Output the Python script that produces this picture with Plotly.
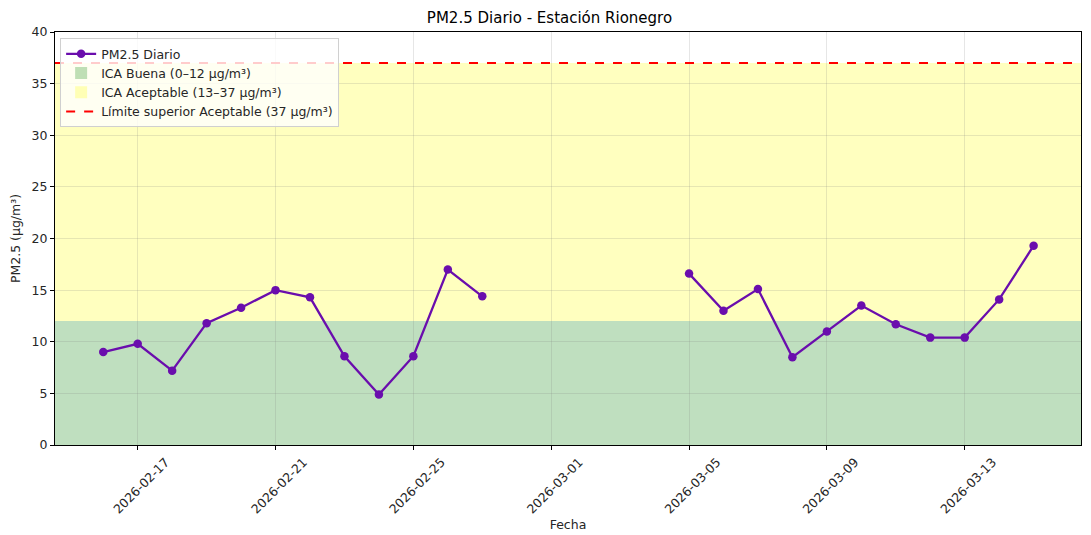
import plotly.graph_objects as go

fechas = ["2026-02-16", "2026-02-17", "2026-02-18", "2026-02-19", "2026-02-20",
          "2026-02-21", "2026-02-22", "2026-02-23", "2026-02-24", "2026-02-25",
          "2026-02-26", "2026-02-27",
          "2026-03-05", "2026-03-06", "2026-03-07", "2026-03-08", "2026-03-09",
          "2026-03-10", "2026-03-11", "2026-03-12", "2026-03-13", "2026-03-14",
          "2026-03-15"]
pm25 = [9.0, 9.8, 7.2, 11.8, 13.3, 15.0, 14.3, 8.6, 4.9, 8.6, 17.0, 14.4,
        16.6, 13.0, 15.1, 8.5, 11.0, 13.5, 11.7, 10.4, 10.4, 14.1, 19.3]

# insert gap (missing days) so the line breaks
x_vals, y_vals = [], []
for i, (f, v) in enumerate(zip(fechas, pm25)):
    if i > 0 and fechas[i - 1] == "2026-02-27":
        x_vals.append("2026-03-01")
        y_vals.append(None)
    x_vals.append(f)
    y_vals.append(v)

buena = (0, 12)
aceptable = (12, 37)
limite = 37
tick_dates = ["2026-02-17", "2026-02-21", "2026-02-25", "2026-03-01",
              "2026-03-05", "2026-03-09", "2026-03-13"]
y_ticks = [0, 5, 10, 15, 20, 25, 30, 35, 40]

FONT = "DejaVu Sans"

fig = go.Figure()
fig.add_trace(go.Scatter(
    x=x_vals, y=y_vals, mode="lines+markers", name="PM2.5 Diario",
    line=dict(color="#6a0dad", width=2.3),
    marker=dict(color="#6a0dad", size=8.5),
    connectgaps=False, legendrank=1,
))

fig.add_shape(type="rect", xref="paper", yref="y", x0=0, x1=1,
              y0=buena[0], y1=buena[1], fillcolor="rgba(0,128,0,0.25)",
              line=dict(width=0), layer="below", showlegend=True,
              name="ICA Buena (0–12 µg/m³)", legendrank=2)
fig.add_shape(type="rect", xref="paper", yref="y", x0=0, x1=1,
              y0=aceptable[0], y1=aceptable[1], fillcolor="rgba(255,255,0,0.25)",
              line=dict(width=0), layer="below", showlegend=True,
              name="ICA Aceptable (13–37 µg/m³)", legendrank=3)
fig.add_shape(type="line", xref="paper", yref="y", x0=0, x1=1,
              y0=limite, y1=limite, line=dict(color="red", width=2, dash="dash"),
              layer="above", showlegend=True,
              name="Límite superior Aceptable (37 µg/m³)", legendrank=4)

# page body has an 8px margin: figure is sized to fill the rest of the window
fig.update_layout(
    width=1083, height=527,
    margin=dict(l=47, r=10, t=24, b=90, autoexpand=False),
    paper_bgcolor="white", plot_bgcolor="white",
    font=dict(family=FONT, size=12.5, color="#262626"),
    title=dict(text="PM2.5 Diario - Estación Rionegro", x=0.5, xanchor="center",
               y=0.981, yanchor="middle", font=dict(size=15, color="black")),
    legend=dict(x=0.005, y=0.985, xanchor="left", yanchor="top",
                bgcolor="rgba(255,255,255,0.8)", bordercolor="#d0d0d0",
                borderwidth=1, font=dict(size=12.5, color="#262626"),
                tracegroupgap=0, itemwidth=30),
    showlegend=True,
)

fig.update_xaxes(
    type="date", automargin=False,
    range=["2026-02-14 14:24", "2026-03-16 09:00"],
    tickvals=tick_dates, ticktext=tick_dates, tickangle=-45,
    ticks="outside", ticklen=4, tickcolor="black",
    showline=True, linecolor="black", linewidth=1, mirror=True,
    showgrid=True, gridcolor="rgba(128,128,128,0.2)", gridwidth=1,
    zeroline=False, ticklabelshift=28,
    title=dict(text="Fecha", font=dict(size=12.5), standoff=0),
)
fig.update_yaxes(
    range=[0, 40], tickvals=y_ticks, automargin=False,
    ticks="outside", ticklen=4, tickcolor="black",
    showline=True, linecolor="black", linewidth=1, mirror=True,
    showgrid=True, gridcolor="rgba(128,128,128,0.2)", gridwidth=1,
    zeroline=False,
    title=dict(text="PM2.5 (µg/m³)", font=dict(size=12.5), standoff=8),
)

fig.write_html("out.html")
